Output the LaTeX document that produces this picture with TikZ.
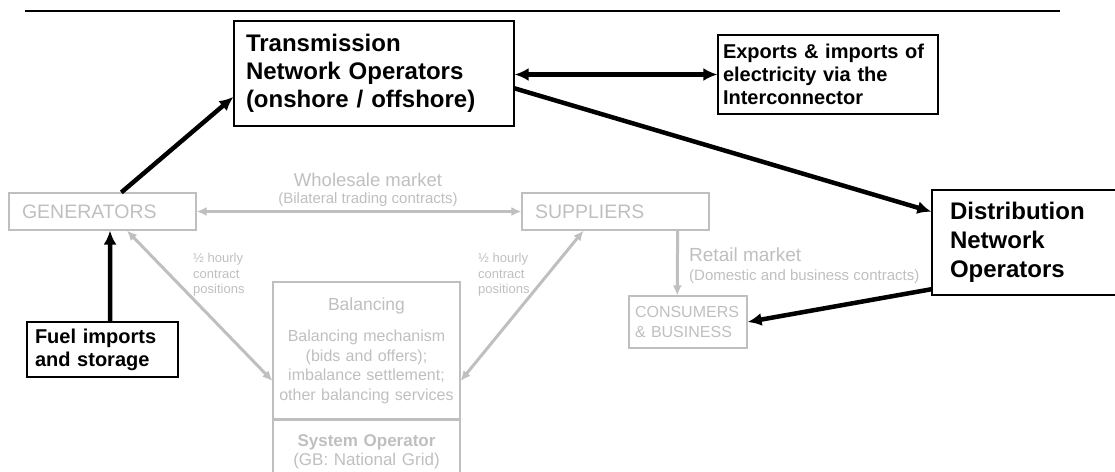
\documentclass[tikz,border=0pt]{standalone}
\usepackage{fontspec}
\setmainfont{Liberation Sans}
\usepackage{tikz}
\usetikzlibrary{arrows.meta,calc,positioning}
\definecolor{market}{RGB}{191,191,191}
\tikzset{>={Latex[length=14pt,width=13pt]}}
\tikzstyle{opbox}=[
	 draw, line width=1.2pt,
	 align=left, inner ysep=0pt
    ]
\tikzstyle{mktbox}=[
	 draw=market, line width=1.2pt, text=market,
	 inner ysep=0pt
    ]
\tikzstyle{flow}=[line width=4.5pt]
\tikzstyle{trade}=[draw=market, line width=3pt, >={Latex[length=10pt,width=9pt]}]
\tikzstyle{note}=[text=market, inner sep=0pt]

\begin{document}
\begin{tikzpicture}[x=1pt,y=-1pt]

\useasboundingbox (0,0) rectangle (1115,471);
\clip (0,0) rectangle (1115,471);

\draw[line width=2pt] (25,11) -- (1060,11);

\node[opbox,minimum width=280pt,minimum height=105pt,inner xsep=12pt,text width=256pt,font=\fontsize{24}{28}\selectfont\bfseries] (tno) at (374,73.5) {Transmission\\Network Operators\\(onshore / offshore)};
\node[opbox,minimum width=220pt,minimum height=79pt,inner xsep=5pt,text width=210pt,font=\fontsize{20}{23}\selectfont\bfseries] (exports) at (828,74.5) {Exports \& imports of\\electricity via the\\Interconnector};
\node[opbox,minimum width=240pt,minimum height=105pt,inner xsep=18pt,text width=204pt,font=\fontsize{24}{29}\selectfont\bfseries] (dno) at (1052,242.5) {Distribution\\Network\\Operators};
\node[opbox,minimum width=151pt,minimum height=55pt,inner xsep=8pt,text width=135pt,font=\fontsize{20}{23}\selectfont\bfseries] (fuel) at (102.5,349.5) {Fuel imports\\and storage};

\node[mktbox,minimum width=187pt,minimum height=37pt,inner xsep=13pt,text width=161pt,align=left,font=\fontsize{19.5}{23}\selectfont] (gen) at (102.5,211.5) {GENERATORS};
\node[mktbox,minimum width=187pt,minimum height=37pt,inner xsep=13pt,text width=161pt,align=left,font=\fontsize{19.5}{23}\selectfont] (sup) at (615.5,211.5) {SUPPLIERS};
\node[mktbox,minimum width=118pt,minimum height=52pt,inner xsep=6pt,text width=106pt,align=left,font=\fontsize{16}{19.5}\selectfont] (cons) at (688,322) {CONSUMERS\\\& BUSINESS};
\node[mktbox,minimum width=187pt,minimum height=137pt,inner xsep=3pt,text width=181pt,align=center,font=\fontsize{16}{19.5}\selectfont] (bal) at (366.5,350.5) {{\fontsize{17.5}{21}\selectfont Balancing}\\[12pt]Balancing mechanism\\(bids and offers);\\imbalance settlement;\\other balancing services};
\node[mktbox,minimum width=187pt,minimum height=63pt,inner xsep=3pt,text width=181pt,align=center,font=\fontsize{17}{19}\selectfont,below=0pt of bal] (sysop) {\textbf{System Operator}\\(GB: National Grid)};

\node[note,font=\fontsize{18.5}{22}\selectfont] (wlbl) at (368,180) {Wholesale market};
\node[note,font=\fontsize{15}{18}\selectfont] (wsub) at (368,200) {(Bilateral trading contracts)};
\node[note,anchor=west,font=\fontsize{19}{22}\selectfont] (rlbl) at (689,255) {Retail market};
\node[note,anchor=west,font=\fontsize{15}{18}\selectfont] (rsub) at (689,277) {(Domestic and business contracts)};
\node[note,anchor=west,align=left,font=\fontsize{13}{15.5}\selectfont] (hgen) at (193,275) {½ hourly\\contract\\positions};
\node[note,anchor=west,align=left,font=\fontsize{13}{15.5}\selectfont] (hsup) at (478,275) {½ hourly\\contract\\positions};

\draw[flow,->] ($(gen.north west)!0.6!(gen.north east)$) -- ($(tno.north west)!0.72!(tno.south west)$);
\draw[flow,->] ($(fuel.north west)!0.55!(fuel.north east)$) -- ($(gen.south west)!0.54!(gen.south east)$);
\draw[flow,<->] (exports.west -| tno.east) -- (exports.west);
\draw[flow,->] ($(tno.north east)!0.64!(tno.south east)$) -- ($(dno.north west)!0.21!(dno.south west)$);
\draw[flow,->] ($(dno.north west)!0.94!(dno.south west)$) -- (cons.east);

\draw[trade,<->] (gen.east) -- (sup.west);
\draw[trade,<->] ($(gen.south west)!0.63!(gen.south east)$) -- ($(bal.north west)!0.72!(bal.south west)$);
\draw[trade,<->] ($(sup.south west)!0.33!(sup.south east)$) -- ($(bal.north east)!0.72!(bal.south east)$);
\draw[trade,->] ($(sup.south west)!0.83!(sup.south east)$) -- ($(cons.north west)!0.41!(cons.north east)$);

\end{tikzpicture}
\end{document}
